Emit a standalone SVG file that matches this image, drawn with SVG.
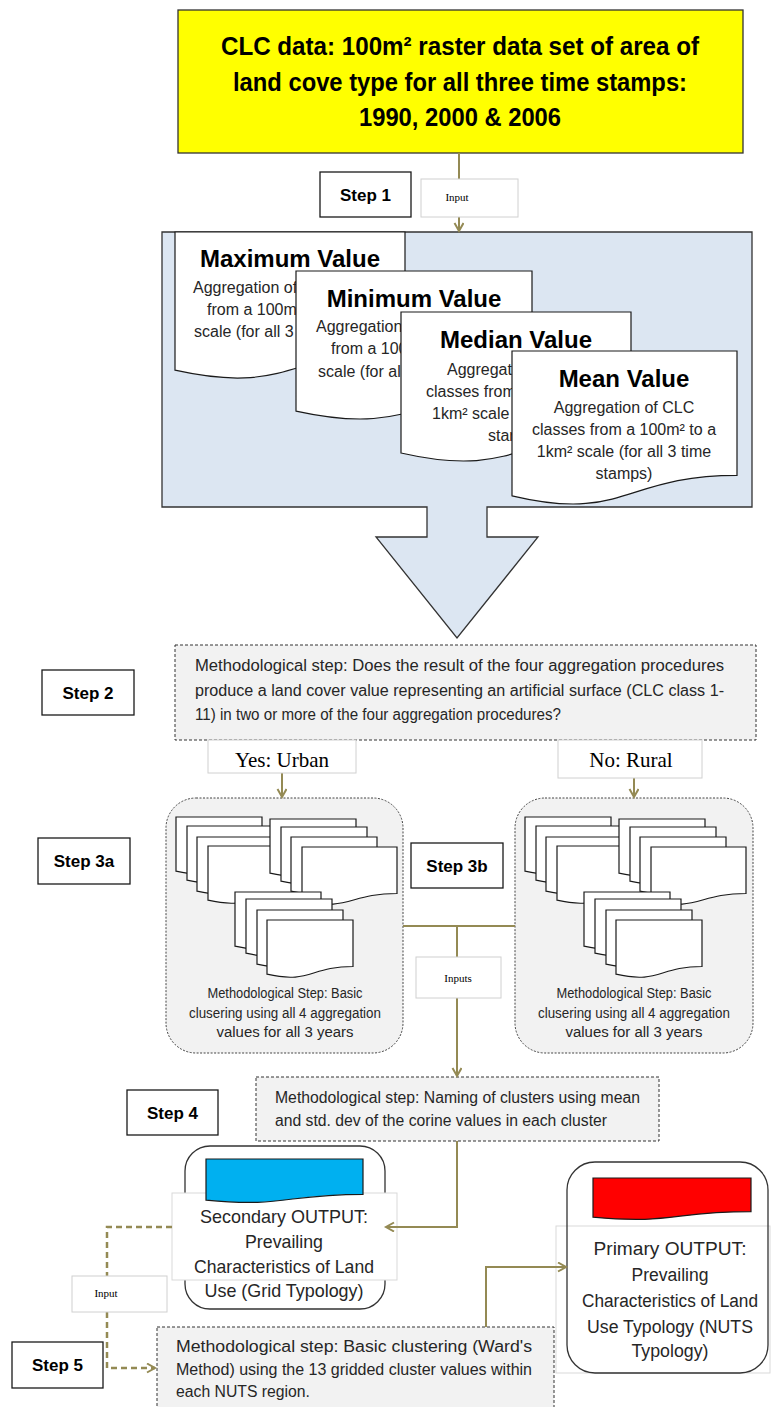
<svg xmlns="http://www.w3.org/2000/svg" xmlns:xlink="http://www.w3.org/1999/xlink" width="771" height="1407" viewBox="0 0 771 1407">
<defs>
<style>
.step{fill:#fff;stroke:#1a1a1a;stroke-width:1.3}
.steptxt{font-family:"Liberation Sans",Arial,sans-serif;font-weight:bold;font-size:17px;text-anchor:middle;fill:#000}
.lbl{fill:#fff;stroke:#d0d0d0;stroke-width:1}
.lbltxt{font-family:"Liberation Serif","Times New Roman",serif;fill:#000;text-anchor:middle}
.dash{fill:#f2f2f2;stroke:#333;stroke-width:1;stroke-dasharray:3 2}
.doc{fill:#fff;stroke:#1a1a1a;stroke-width:1.2}
.conn{fill:none;stroke:#948a54;stroke-width:2}
.dconn{fill:none;stroke:#948a54;stroke-width:2.5;stroke-dasharray:6 4}
.body{font-family:"Liberation Sans",Arial,sans-serif;fill:#262626}
.title{font-family:"Liberation Sans",Arial,sans-serif;font-weight:bold;font-size:24px;fill:#000;text-anchor:middle}
.big{font-family:"Liberation Sans",Arial,sans-serif;font-weight:bold;font-size:25px;fill:#000;text-anchor:middle}
.mid{text-anchor:middle}
</style>
<path id="sd" d="M0,0 H86 V46.5 C43,46.5 43,64.2 0,54.2 Z"/>
<path id="sdw" d="M0,0 H95 V46.5 C47.5,46.5 47.5,64.2 0,54.2 Z"/>
<marker id="arr" markerUnits="userSpaceOnUse" markerWidth="12" markerHeight="12" refX="9" refY="5" orient="auto">
<path d="M1,0.5 L9,5 L1,9.5" fill="none" stroke="#948a54" stroke-width="2"/>
</marker>
</defs>

<g id="clc-data">
<rect x="178" y="10" width="565" height="143" fill="#ffff00" stroke="#333" stroke-width="1.3"/>
<text class="big" x="460" y="55" textLength="478" lengthAdjust="spacingAndGlyphs">CLC data: 100m² raster data set of area of</text>
<text class="big" x="460" y="91" textLength="454" lengthAdjust="spacingAndGlyphs">land cove type for all three time stamps:</text>
<text class="big" x="460" y="126" textLength="202" lengthAdjust="spacingAndGlyphs">1990, 2000 &amp; 2006</text>
</g>

<g id="step1"><rect class="step" x="320" y="172" width="91" height="45"/><text class="steptxt" x="365.5" y="201">Step 1</text></g>
<g id="step2"><rect class="step" x="42" y="670" width="92" height="45"/><text class="steptxt" x="88" y="699">Step 2</text></g>
<g id="step3a"><rect class="step" x="38" y="838" width="92" height="46"/><text class="steptxt" x="84" y="867">Step 3a</text></g>
<g id="step3b"><rect class="step" x="411" y="843" width="92" height="45"/><text class="steptxt" x="457" y="872">Step 3b</text></g>
<g id="step4"><rect class="step" x="127" y="1090" width="91" height="45"/><text class="steptxt" x="172.5" y="1119">Step 4</text></g>
<g id="step5"><rect class="step" x="12" y="1342" width="91" height="46"/><text class="steptxt" x="57.5" y="1371">Step 5</text></g>

<g id="aggregation">
<path d="M162,232 H752 V507 H487 V537 H538 L457,638 L376,537 H427 V507 H162 Z" fill="#dce6f2" stroke="#333" stroke-width="1.3"/>
<g id="max-value">
<path class="doc" d="M175,232 H405 V350.7 C290,350.7 290,395.8 175,370.2 Z"/>
<text class="title" x="290" y="267">Maximum Value</text>
<text class="body" font-size="16" x="193" y="293">Aggregation of</text>
<text class="body" font-size="16" x="207" y="315">from a 100m</text>
<text class="body" font-size="16" x="194" y="337">scale (for all 3</text>
</g>
<g id="min-value">
<path class="doc" d="M296,271 H532 V391.3 C414,391.3 414,437 296,411.1 Z"/>
<text class="title" x="414" y="307">Minimum Value</text>
<text class="body" font-size="16" x="316" y="332">Aggregation</text>
<text class="body" font-size="16" x="331" y="354">from a 100</text>
<text class="body" font-size="16" x="318" y="377">scale (for al</text>
</g>
<g id="median-value">
<path class="doc" d="M401,312 H631 V433.1 C516,433.1 516,479.2 401,453 Z"/>
<text class="title" x="516" y="348">Median Value</text>
<text class="body" font-size="16" x="447" y="375">Aggregat</text>
<text class="body" font-size="16" x="426" y="397">classes from</text>
<text class="body" font-size="16" x="432" y="419">1km² scale</text>
<text class="body" font-size="16" x="488" y="441">star</text>
</g>
<g id="mean-value">
<path class="doc" d="M512,351 H737 V475.3 C624.5,475.3 624.5,522.6 512,495.8 Z"/>
<text class="title" x="624" y="387">Mean Value</text>
<text class="body mid" font-size="16" x="624" y="413">Aggregation of CLC</text>
<text class="body mid" font-size="16" x="624" y="435">classes from a 100m² to a</text>
<text class="body mid" font-size="16" x="624" y="457">1km² scale (for all 3 time</text>
<text class="body mid" font-size="16" x="624" y="479">stamps)</text>
</g>
</g>

<g id="method-step2">
<rect class="dash" x="175" y="645" width="581" height="95"/>
<text class="body" font-size="16" x="195" y="671" textLength="529" lengthAdjust="spacingAndGlyphs">Methodological step: Does the result of the four aggregation procedures</text>
<text class="body" font-size="16" x="195" y="696" textLength="529" lengthAdjust="spacingAndGlyphs">produce a land cover value representing an artificial surface (CLC class 1-</text>
<text class="body" font-size="16" x="195" y="720" textLength="366" lengthAdjust="spacingAndGlyphs">11)  in two or more of the four aggregation procedures?</text>
</g>

<g id="cluster-urban">
<rect x="166" y="798" width="237" height="255" rx="30" fill="#f2f2f2" stroke="#444" stroke-width="1" stroke-dasharray="2 1.5"/>
<use href="#sd" class="doc" x="176" y="817"/>
<use href="#sd" class="doc" x="187" y="826"/>
<use href="#sd" class="doc" x="197" y="837"/>
<use href="#sd" class="doc" x="208" y="846"/>
<use href="#sd" class="doc" x="270" y="819"/>
<use href="#sd" class="doc" x="281" y="827"/>
<use href="#sd" class="doc" x="291" y="837"/>
<use href="#sdw" class="doc" x="302" y="847"/>
<use href="#sd" class="doc" x="235" y="892"/>
<use href="#sd" class="doc" x="246" y="899"/>
<use href="#sd" class="doc" x="257" y="910"/>
<use href="#sd" class="doc" x="267" y="920"/>
<text class="body mid" font-size="14" x="285" y="998" textLength="155" lengthAdjust="spacingAndGlyphs">Methodological Step: Basic</text>
<text class="body mid" font-size="14" x="285" y="1018" textLength="192" lengthAdjust="spacingAndGlyphs">clusering using all 4 aggregation</text>
<text class="body mid" font-size="14" x="285" y="1037" textLength="137" lengthAdjust="spacingAndGlyphs">values for all 3 years</text>
</g>

<g id="cluster-rural">
<rect x="515" y="798" width="238" height="255" rx="30" fill="#f2f2f2" stroke="#444" stroke-width="1" stroke-dasharray="2 1.5"/>
<use href="#sd" class="doc" x="525" y="817"/>
<use href="#sd" class="doc" x="536" y="826"/>
<use href="#sd" class="doc" x="546" y="837"/>
<use href="#sd" class="doc" x="557" y="846"/>
<use href="#sd" class="doc" x="619" y="819"/>
<use href="#sd" class="doc" x="630" y="827"/>
<use href="#sd" class="doc" x="640" y="837"/>
<use href="#sdw" class="doc" x="651" y="847"/>
<use href="#sd" class="doc" x="584" y="892"/>
<use href="#sd" class="doc" x="595" y="899"/>
<use href="#sd" class="doc" x="606" y="910"/>
<use href="#sd" class="doc" x="616" y="920"/>
<text class="body mid" font-size="14" x="634" y="998" textLength="155" lengthAdjust="spacingAndGlyphs">Methodological Step: Basic</text>
<text class="body mid" font-size="14" x="634" y="1018" textLength="192" lengthAdjust="spacingAndGlyphs">clusering using all 4 aggregation</text>
<text class="body mid" font-size="14" x="634" y="1037" textLength="137" lengthAdjust="spacingAndGlyphs">values for all 3 years</text>
</g>

<g id="method-step4">
<rect class="dash" x="256" y="1077" width="403" height="64"/>
<text class="body" font-size="16" x="275" y="1103" textLength="365" lengthAdjust="spacingAndGlyphs">Methodological step: Naming of clusters using mean</text>
<text class="body" font-size="16" x="275" y="1126" textLength="332" lengthAdjust="spacingAndGlyphs">and std. dev of the corine values in each cluster</text>
</g>

<g id="secondary-output">
<rect x="185" y="1146" width="200" height="163" rx="25" fill="#fff" stroke="#333" stroke-width="1.3"/>
<rect x="172" y="1193" width="225" height="87" fill="#fff" stroke="#d9d9d9" stroke-width="1"/>
<path d="M206,1159 H363 V1194.3 C284.5,1194.3 284.5,1207.7 206,1200.1 Z" fill="#00b0f0" stroke="#1a1a1a" stroke-width="1.2"/>
<text class="body mid" font-size="19" x="284" y="1223" textLength="168" lengthAdjust="spacingAndGlyphs">Secondary OUTPUT:</text>
<text class="body mid" font-size="19" x="284" y="1248" textLength="78" lengthAdjust="spacingAndGlyphs">Prevailing</text>
<text class="body mid" font-size="19" x="284" y="1273" textLength="180" lengthAdjust="spacingAndGlyphs">Characteristics of Land</text>
<text class="body mid" font-size="19" x="284" y="1297" textLength="159" lengthAdjust="spacingAndGlyphs">Use (Grid Typology)</text>
</g>

<g id="primary-output">
<rect x="556" y="1226" width="214" height="147" fill="#fff" stroke="#d9d9d9" stroke-width="1"/>
<rect x="567" y="1162" width="201" height="211" rx="28" fill="none" stroke="#333" stroke-width="1.3"/>
<path d="M593,1178 H751 V1211.7 C672,1211.7 672,1224.5 593,1217.2 Z" fill="#ff0000" stroke="#1a1a1a" stroke-width="1.2"/>
<text class="body mid" font-size="18" x="670" y="1255" textLength="153" lengthAdjust="spacingAndGlyphs">Primary OUTPUT:</text>
<text class="body mid" font-size="18" x="670" y="1281" textLength="77" lengthAdjust="spacingAndGlyphs">Prevailing</text>
<text class="body mid" font-size="18" x="670" y="1307" textLength="176" lengthAdjust="spacingAndGlyphs">Characteristics of Land</text>
<text class="body mid" font-size="18" x="670" y="1333" textLength="166" lengthAdjust="spacingAndGlyphs">Use Typology (NUTS</text>
<text class="body mid" font-size="18" x="670" y="1357" textLength="77" lengthAdjust="spacingAndGlyphs">Typology)</text>
</g>

<g id="method-step5">
<rect class="dash" x="157" y="1327" width="397" height="95"/>
<text class="body" font-size="16" x="176" y="1352" textLength="356" lengthAdjust="spacingAndGlyphs">Methodological  step:  Basic  clustering  (Ward's</text>
<text class="body" font-size="16" x="176" y="1375" textLength="356" lengthAdjust="spacingAndGlyphs">Method) using the 13 gridded cluster values within</text>
<text class="body" font-size="16" x="176" y="1397" textLength="134" lengthAdjust="spacingAndGlyphs">each NUTS region.</text>
</g>

<g id="connectors">
<path class="conn" d="M459,153 V231" marker-end="url(#arr)"/>
<path class="conn" d="M282,773 V797" marker-end="url(#arr)"/>
<path class="conn" d="M634,778 V797" marker-end="url(#arr)"/>
<path class="conn" d="M403,926 H515"/>
<path class="conn" d="M457,926 V1076" marker-end="url(#arr)"/>
<path class="conn" d="M457,1141 V1227 H386" marker-end="url(#arr)"/>
<path class="conn" d="M486,1327 V1267 H566" marker-end="url(#arr)"/>
<path class="dconn" d="M172,1227 H107 V1368 H155" marker-end="url(#arr)"/>
</g>

<g id="label-input-top"><rect class="lbl" x="421" y="179" width="97" height="38"/><text class="lbltxt" font-size="11" x="457" y="201">Input</text></g>
<g id="label-yes"><rect class="lbl" x="208" y="740" width="148" height="33"/><text class="lbltxt" font-size="21" x="282" y="767">Yes: Urban</text></g>
<g id="label-no"><rect class="lbl" x="558" y="740" width="144" height="38"/><text class="lbltxt" font-size="21" x="631" y="767">No: Rural</text></g>
<g id="label-inputs"><rect class="lbl" x="416" y="957" width="85" height="41"/><text class="lbltxt" font-size="11" x="458" y="982">Inputs</text></g>
<g id="label-input-bottom"><rect class="lbl" x="72" y="1276" width="95" height="36"/><text class="lbltxt" font-size="11" x="106" y="1297">Input</text></g>
</svg>
